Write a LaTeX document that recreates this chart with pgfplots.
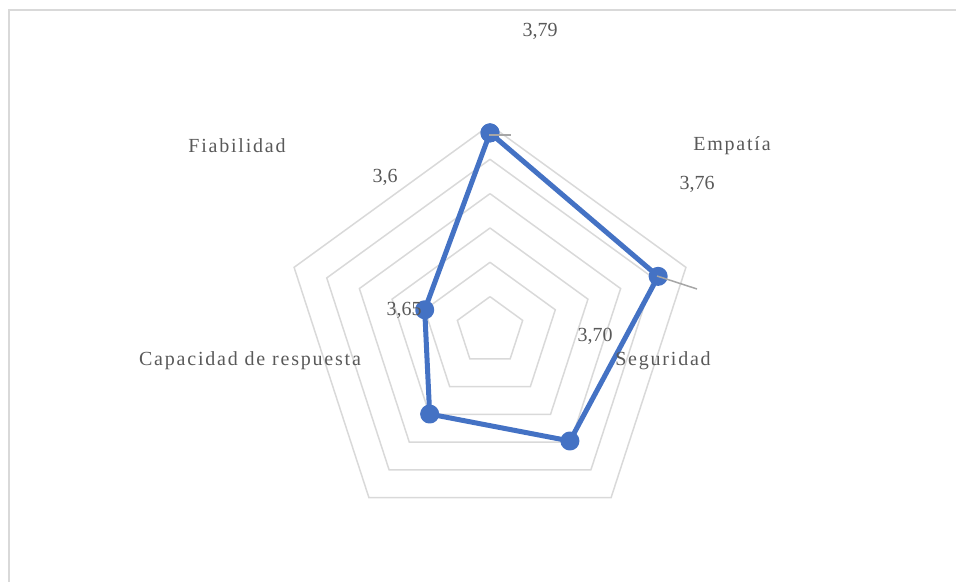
\documentclass[border=0pt]{standalone}
\usepackage{fontspec}
\setmainfont{Liberation Serif}
\newfontfamily\catfont[LetterSpace=9]{Liberation Serif}
\usepackage{pgfplots}
\pgfplotsset{compat=1.18}
\usepgfplotslibrary{polar}
\definecolor{serie}{HTML}{4472C4}
\definecolor{rejilla}{HTML}{D9D9D9}
\definecolor{texto}{HTML}{595959}
\definecolor{guia}{HTML}{A6A6A6}
\begin{document}
\begin{tikzpicture}
\useasboundingbox (0pt,0pt) rectangle (478pt,291pt);
% marco del grafico (recortado abajo y a la derecha)
\draw[rejilla, line width=0.75pt] (4.5pt,-10pt) -- (4.5pt,286pt) -- (490pt,286pt);
\begin{polaraxis}[
  at={(245pt,125.5pt)}, anchor=center,
  scale only axis, width=206pt, height=206pt,
  ymin=0, ymax=6,
  hide axis,
  clip=false,
]
  % anillos pentagonales
  \foreach \r in {1,2,3,4,5,6} {
    \addplot[rejilla, line width=0.75pt, no marks] coordinates {
      (90,\r) (18,\r) (-54,\r) (-126,\r) (162,\r) (90,\r)
    };
  }
  % serie
  \addplot[serie, line width=2.5pt, mark=*, mark size=3.5pt,
           mark options={fill=serie, draw=serie}, line join=round] coordinates {
    (90,5.77) (18,5.15) (-54,3.96) (-126,2.99) (162,2.00) (90,5.77)
  };
\end{polaraxis}
% lineas guia de etiquetas
\draw[guia, line width=0.75pt] (244.5pt,223.5pt) -- (255.5pt,223.5pt);
\draw[guia, line width=0.75pt] (328.5pt,153pt) -- (348.5pt,146.5pt);
% etiquetas
\begin{scope}[every node/.style={text=texto, font=\fontsize{10}{12}\selectfont, inner sep=0pt}]
  \node at (270pt,275.5pt) {3,79};
  \node at (192.5pt,202.5pt) {3,6};
  \node at (348.5pt,199pt) {3,76};
  \node at (202pt,136pt) {3,65};
  \node at (297.5pt,123pt) {3,70};
  \node[font=\catfont\fontsize{10}{12}\selectfont] at (118.5pt,218pt) {Fiabilidad};
  \node[font=\catfont\fontsize{10}{12}\selectfont] at (366pt,218pt) {Empatía};
  \node[font=\catfont\fontsize{10}{12}\selectfont] at (331.5pt,110.5pt) {Seguridad};
  \node[font=\catfont\fontsize{10}{12}\selectfont] at (125pt,110.5pt) {Capacidad de respuesta};
\end{scope}
\end{tikzpicture}
\end{document}
